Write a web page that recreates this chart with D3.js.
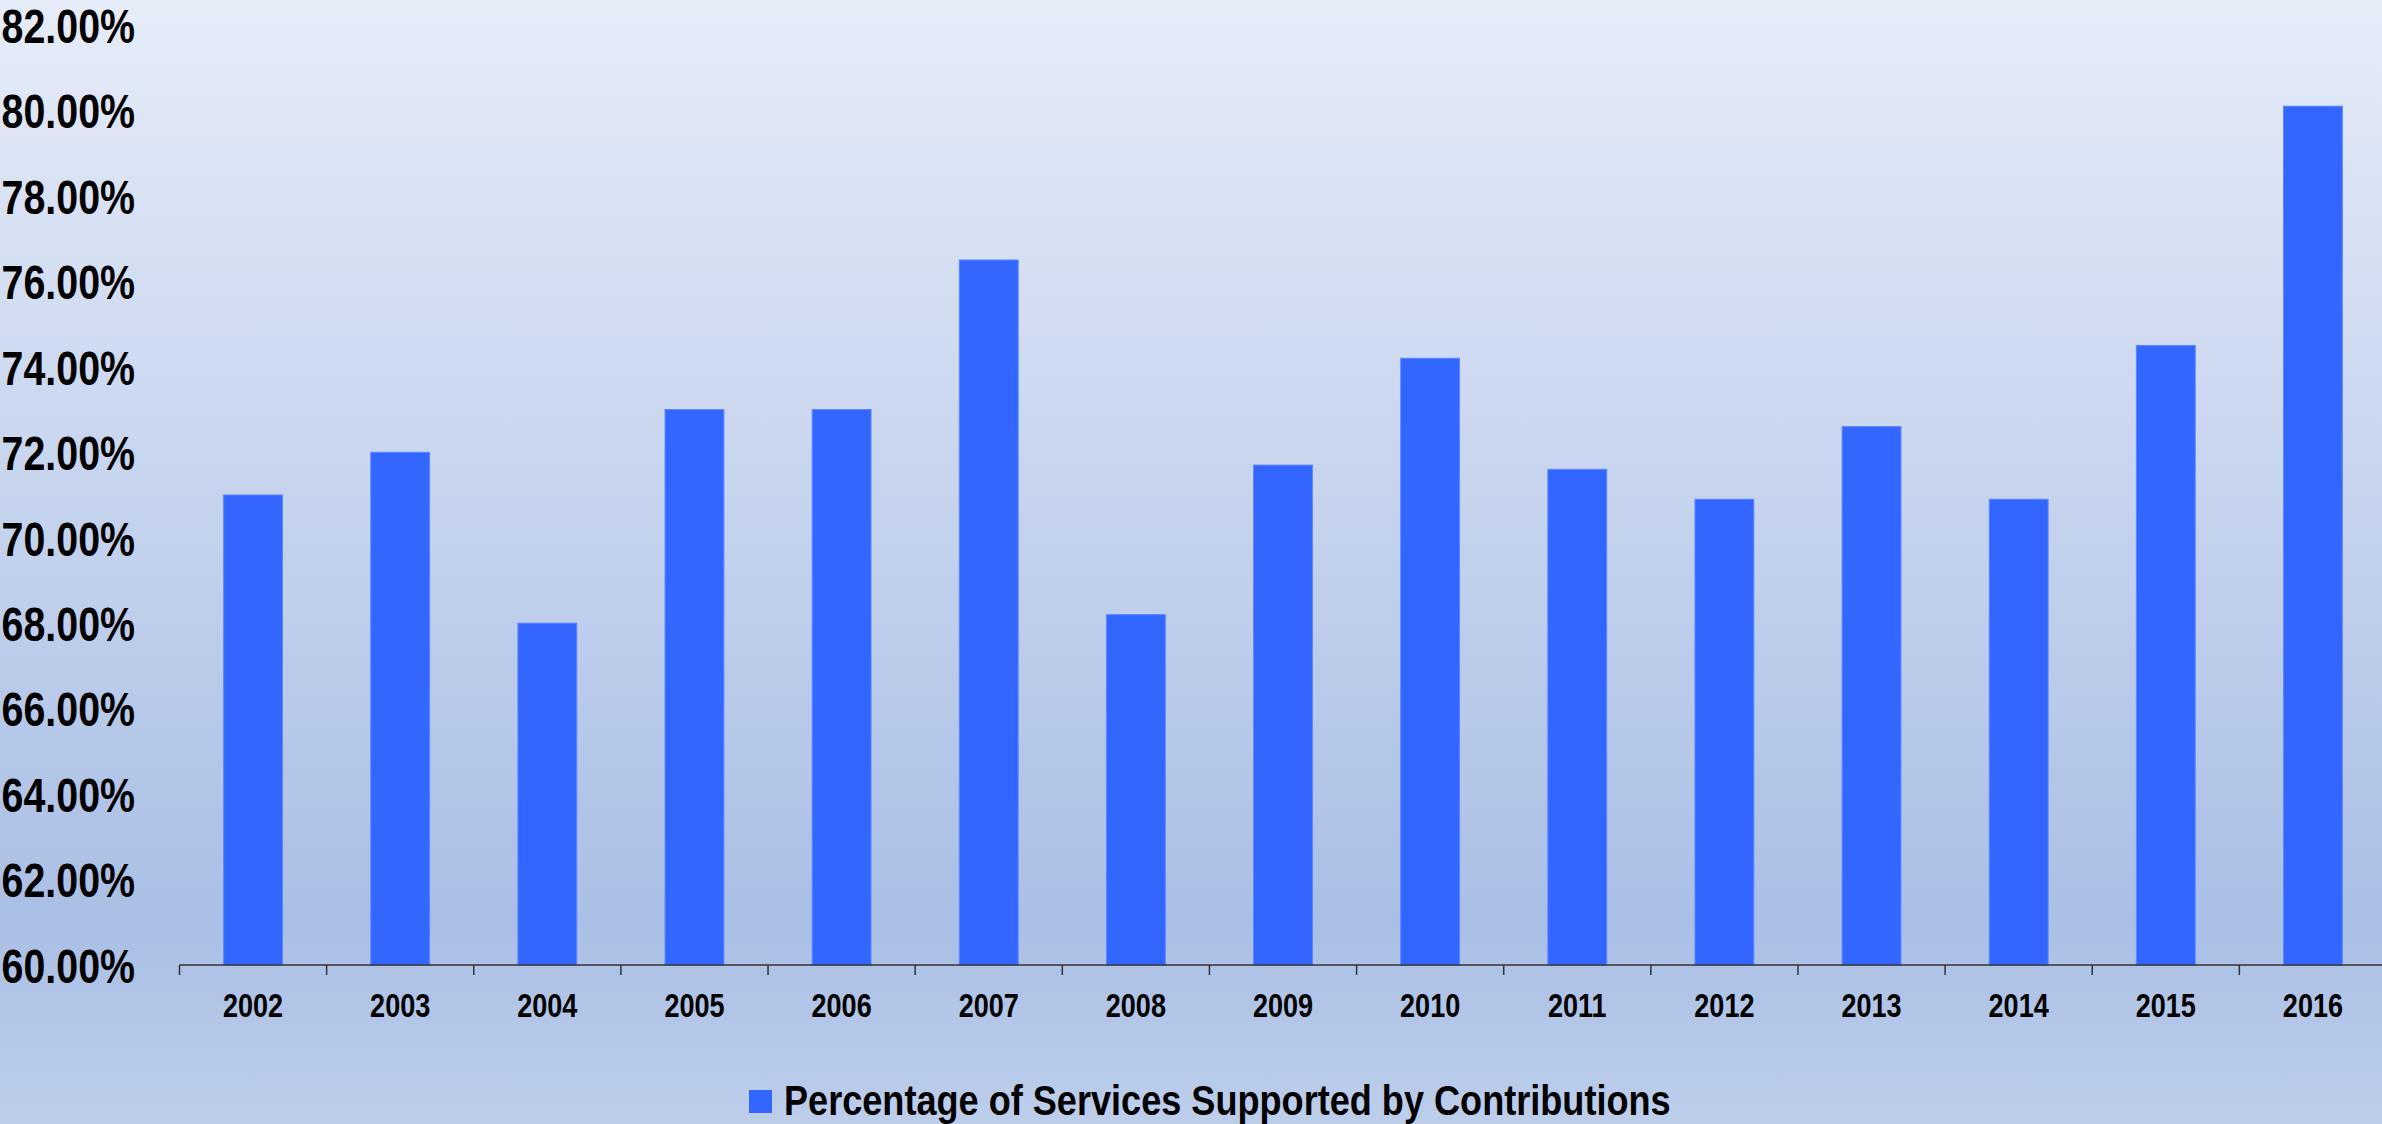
<!DOCTYPE html>
<html>
<head>
<meta charset="utf-8">
<script src="https://cdn.jsdelivr.net/npm/d3@7"></script>
<style>
  html, body { margin: 0; padding: 0; overflow: hidden; }
  body { width: 2382px; height: 1124px; }
  svg text { font-family: "Liberation Sans", Arial, sans-serif; font-weight: bold; fill: #000; }
</style>
</head>
<body>
<svg id="chart" width="2382" height="1124"></svg>
<script>
const categories = ["2002","2003","2004","2005","2006","2007","2008","2009","2010","2011","2012","2013","2014","2015","2016"];
const values = [71.0, 72.0, 68.0, 73.0, 73.0, 76.5, 68.2, 71.7, 74.2, 71.6, 70.9, 72.6, 70.9, 74.5, 80.1];
const yTicks = [60, 62, 64, 66, 68, 70, 72, 74, 76, 78, 80, 82];
const seriesName = "Percentage of Services Supported by Contributions";

const W = 2382, H = 1124;
const NARROW = 0.82;
const svg = d3.select("#chart");

const defs = svg.append("defs");
const grad = defs.append("linearGradient").attr("id", "bg").attr("x1", 0).attr("y1", 0).attr("x2", 0).attr("y2", 1);
grad.append("stop").attr("offset", "0").attr("stop-color", "#E6ECF8");
grad.append("stop").attr("offset", "0.82").attr("stop-color", "#AABFE5");
grad.append("stop").attr("offset", "1").attr("stop-color", "#BDCEEB");
svg.append("rect").attr("width", W).attr("height", H).attr("fill", "url(#bg)");

const x = d3.scaleBand().domain(categories).range([179.5, 2386.5]).padding(0);
const y = d3.scaleLinear().domain([60, 82]).range([965, 25]);

const barW = x.bandwidth() * 0.4;
svg.append("g").selectAll("rect").data(values).join("rect")
  .attr("x", (d, i) => x(categories[i]) + (x.bandwidth() - barW) / 2)
  .attr("y", d => y(d))
  .attr("width", barW)
  .attr("height", d => y(60) - y(d))
  .attr("fill", "#3366FF")
  .attr("stroke", "#5C85FF")
  .attr("stroke-width", 1);

// x axis
const xAxis = svg.append("g").attr("transform", "translate(0,965)")
  .call(d3.axisBottom(x).tickSize(0).tickPadding(0));
xAxis.select(".domain").remove();
xAxis.append("line").attr("x1", 179.5).attr("x2", 2386.5).attr("y1", 0).attr("y2", 0)
  .attr("stroke", "#333").attr("stroke-width", 1.5);
const boundaries = categories.map(c => x(c)).concat([x.range()[1]]);
xAxis.selectAll("line.b").data(boundaries).join("line").attr("class", "b")
  .attr("x1", d => d).attr("x2", d => d).attr("y1", 0).attr("y2", 10)
  .attr("stroke", "#333").attr("stroke-width", 1.5);
xAxis.selectAll(".tick text")
  .attr("y", 52).attr("dy", 0)
  .attr("transform", `scale(${NARROW},1)`)
  .style("font-size", "33px")
  .attr("fill", "#000");

// y axis labels
const yAxis = svg.append("g").attr("transform", "translate(135,0)")
  .call(d3.axisLeft(y).tickValues(yTicks).tickSize(0).tickPadding(0).tickFormat(d => d3.format(".2f")(d) + "%"));
yAxis.select(".domain").remove();
yAxis.selectAll(".tick text").style("font-size", "48px").attr("dy", "0.36em")
  .attr("transform", `scale(${NARROW},1)`).attr("fill", "#000");

// legend
const lg = svg.append("g");
lg.append("rect").attr("x", 749).attr("y", 1090).attr("width", 23).attr("height", 23).attr("fill", "#3366FF");
lg.append("text").attr("transform", "translate(784,1115) scale(0.84,1)").style("font-size", "43px").text(seriesName);
</script>
</body>
</html>
